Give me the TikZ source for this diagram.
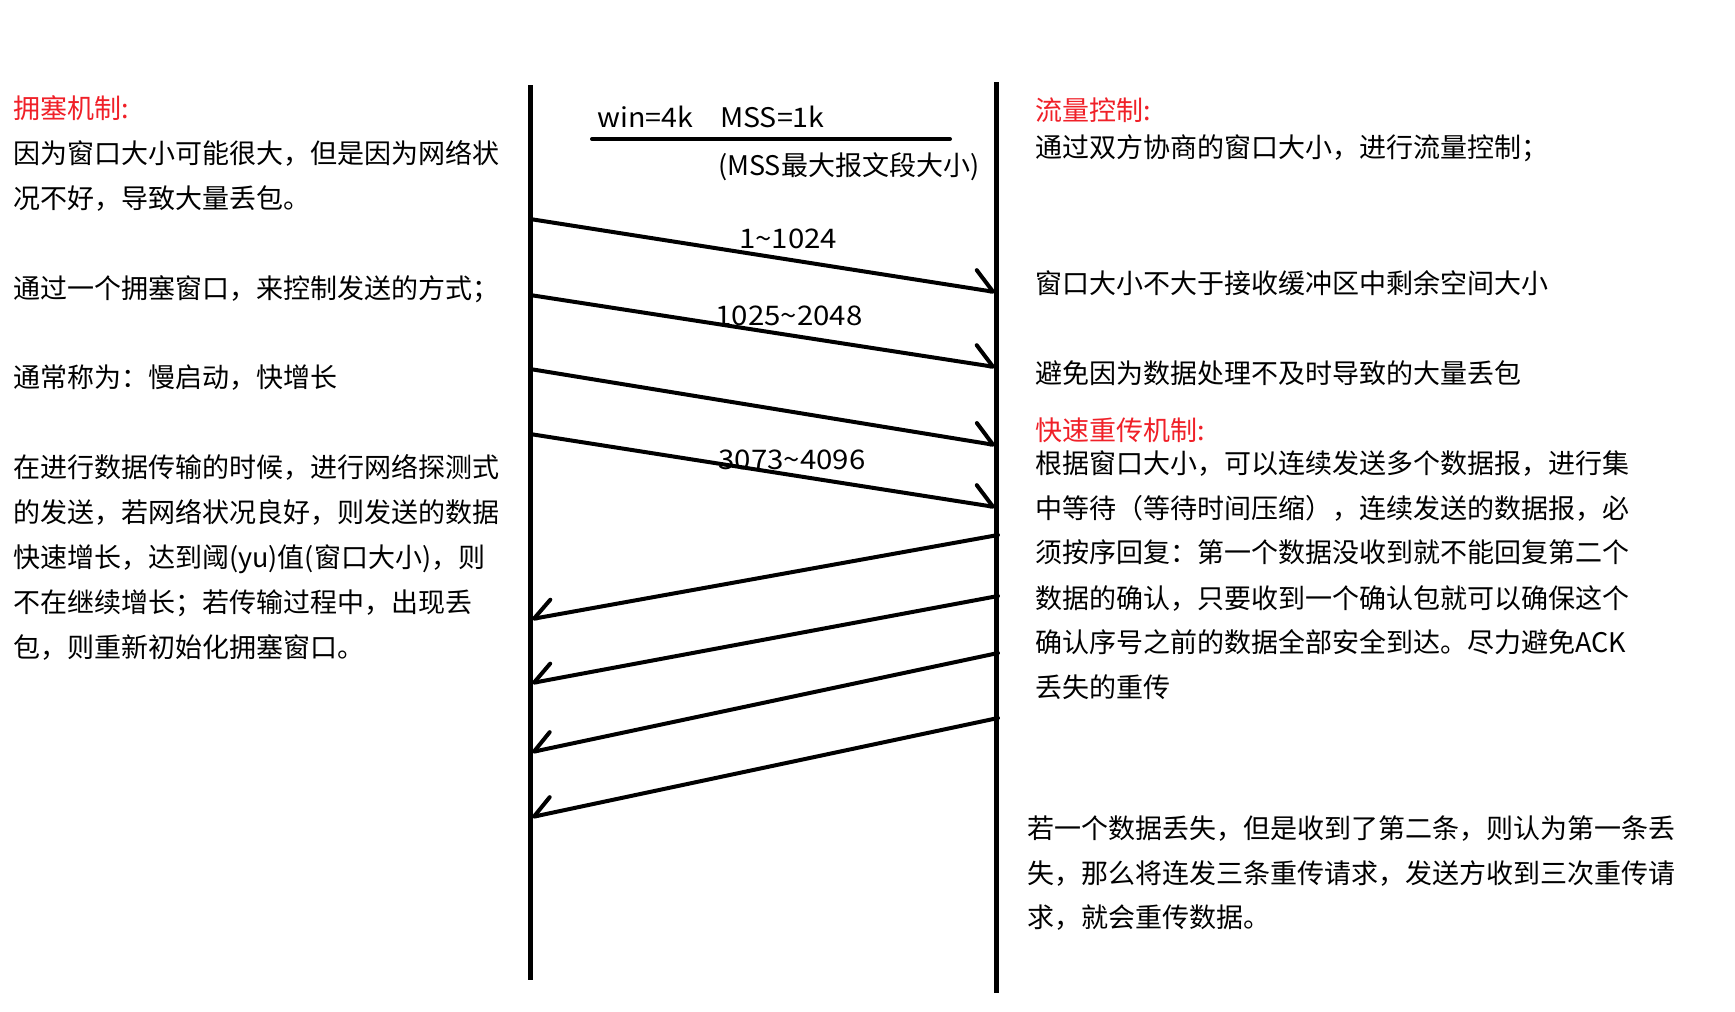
\documentclass[tikz,border=0pt]{standalone}
\usepackage{fontspec}
\usepackage{graphicx}
\setmainfont{Noto Sans CJK SC}
\usetikzlibrary{arrows.meta}
\definecolor{hred}{RGB}{240,32,40}
\newcommand{\wideL}[1]{\scalebox{1.09}[1]{#1}}
\begin{document}
\begin{tikzpicture}[x=1pt,y=-1pt,
  txt/.style={anchor=west, inner sep=0pt, font=\fontsize{27}{32}\selectfont, text height=24pt, text depth=3pt},
  head/.style={txt, text=hred},
  ctr/.style={txt, anchor=center},
  life/.style={line width=5pt},
  msg/.style={line width=4pt, line cap=round},
  rarr/.style={msg, -{Straight Barb[harpoon, angle=88:27pt, round]}},
  larr/.style={msg, -{Straight Barb[harpoon, swap, angle=78:25pt, round]}},
]
\useasboundingbox (0,0) rectangle (1735,1012);
\fill[white] (0,0) rectangle (1735,1012);

% lifelines
\coordinate (Ltop) at (530,85);
\coordinate (Lbot) at (530,980);
\coordinate (Rtop) at (996,82);
\coordinate (Rbot) at (996,993);
\draw[life] (Ltop) -- (Lbot);
\draw[life] (Rtop) -- (Rbot);

% header line
\coordinate (H1) at (592,139);
\coordinate (H2) at (950,139);
\draw[msg] (H1) -- (H2);
\node[txt] (win) at (597,117) {\scalebox{1.06}[1]{win=4k}\hspace{27pt}\scalebox{1.06}[1]{MSS=1k}};
\node[txt] (mss) at (718,165) {(MSS最大报文段大小)};

% data segments
\coordinate (s1) at (530,219); \coordinate (e1) at (995,292);
\coordinate (s2) at (530,295); \coordinate (e2) at (995,367);
\coordinate (s3) at (530,369); \coordinate (e3) at (995,445);
\coordinate (s4) at (530,434); \coordinate (e4) at (995,507);
\draw[rarr] (s1) -- (e1);
\draw[rarr] (s2) -- (e2);
\draw[rarr] (s3) -- (e3);
\draw[rarr] (s4) -- (e4);
\node[ctr] (n1) at (788,238) {\wideL{1\textasciitilde1024}};
\node[ctr] (n2) at (789,315) {\wideL{1025\textasciitilde2048}};
\node[ctr] (n4) at (792,459) {\wideL{3073\textasciitilde4096}};

% acks
\coordinate (a1) at (998,535); \coordinate (b1) at (532,619);
\coordinate (a2) at (998,596); \coordinate (b2) at (532,683);
\coordinate (a3) at (998,653); \coordinate (b3) at (532,752);
\coordinate (a4) at (998,718); \coordinate (b4) at (532,817);
\draw[larr] (a1) -- (b1);
\draw[larr] (a2) -- (b2);
\draw[larr] (a3) -- (b3);
\draw[larr] (a4) -- (b4);

% left column
\node[head] (LH) at (13,108) {拥塞机制:};
\node[txt] (L1) at (13,153) {因为窗口大小可能很大，但是因为网络状};
\node[txt] (L2) at (13,198) {况不好，导致大量丢包。};
\node[txt] (L3) at (13,288) {通过一个拥塞窗口，来控制发送的方式；};
\node[txt] (L4) at (13,377) {通常称为：慢启动，快增长};
\node[txt] (L5) at (13,467) {在进行数据传输的时候，进行网络探测式};
\node[txt] (L6) at (13,512) {的发送，若网络状况良好，则发送的数据};
\node[txt] (L7) at (13,557) {快速增长，达到阈(yu)值(窗口大小)，则};
\node[txt] (L8) at (13,602) {不在继续增长；若传输过程中，出现丢};
\node[txt] (L9) at (13,647) {包，则重新初始化拥塞窗口。};

% right column
\node[head] (RH1) at (1035,110) {流量控制:};
\node[txt] (R1) at (1035,147) {通过双方协商的窗口大小，进行流量控制；};
\node[txt] (R2) at (1035,283) {窗口大小不大于接收缓冲区中剩余空间大小};
\node[txt] (R3) at (1035,373) {避免因为数据处理不及时导致的大量丢包};
\node[head] (RH2) at (1035,430) {快速重传机制:};
\node[txt] (R4) at (1035,463) {根据窗口大小，可以连续发送多个数据报，进行集};
\node[txt] (R5) at (1035,508) {中等待（等待时间压缩），连续发送的数据报，必};
\node[txt] (R6) at (1035,552) {须按序回复：第一个数据没收到就不能回复第二个};
\node[txt] (R7) at (1035,598) {数据的确认，只要收到一个确认包就可以确保这个};
\node[txt] (R8) at (1035,642) {确认序号之前的数据全部安全到达。尽力避免ACK};
\node[txt] (R9) at (1035,687) {丢失的重传};
\node[txt] (R10) at (1027,828) {若一个数据丢失，但是收到了第二条，则认为第一条丢};
\node[txt] (R11) at (1027,873) {失，那么将连发三条重传请求，发送方收到三次重传请};
\node[txt] (R12) at (1027,917) {求，就会重传数据。};
\end{tikzpicture}
\end{document}
